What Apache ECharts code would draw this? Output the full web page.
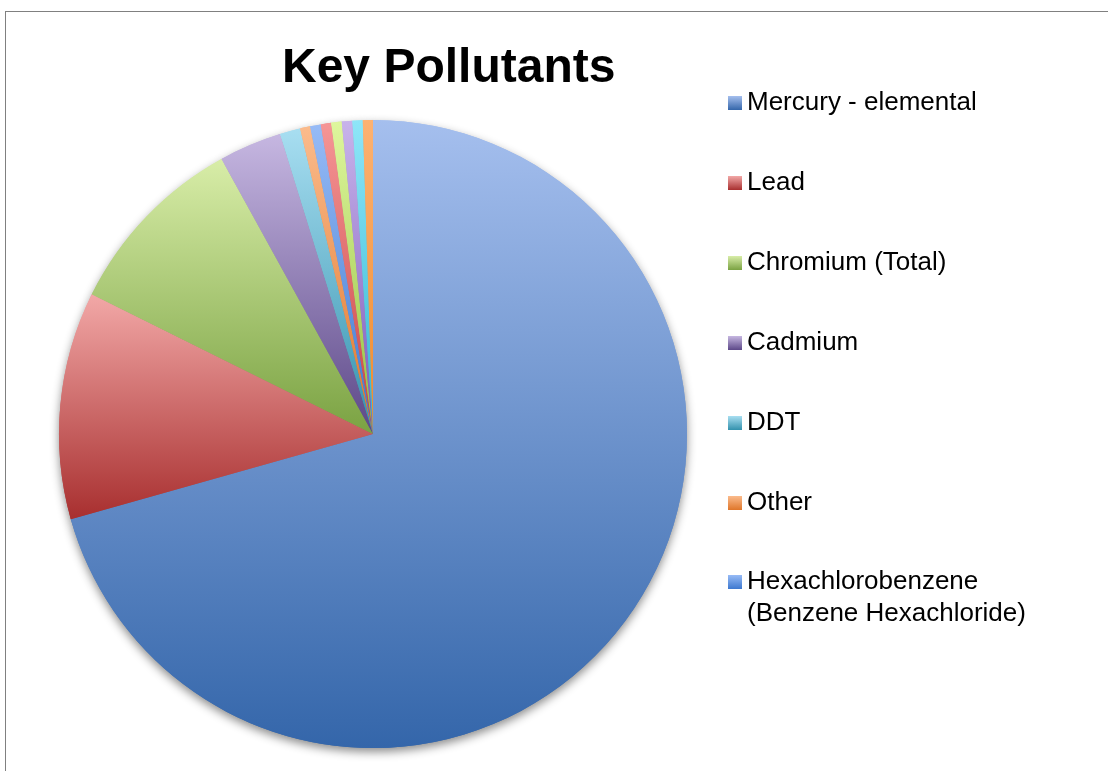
<!DOCTYPE html>
<html>
<head>
<meta charset="utf-8">
<script src="https://cdn.jsdelivr.net/npm/echarts@6/dist/echarts.min.js"></script>
<style>
    html, body { margin: 0; padding: 0; background: #fff; overflow: hidden; }
    #chart1 { width: 1108px; height: 771px; }
    #frame { position: absolute; left: 5px; top: 11px; width: 1200px; height: 900px; border-left: 1px solid #808080; border-top: 1px solid #808080; pointer-events: none; }
</style>
</head>
<body>
<div id="chart1"></div>
<div id="frame"></div>
<script>
    var names = ['Mercury - elemental', 'Lead', 'Chromium (Total)', 'Cadmium', 'DDT', 'Other',
        'Hexachlorobenzene\n(Benzene Hexachloride)', 'Item 8', 'Item 9', 'Item 10', 'Item 11', 'Item 12'];
    // percent of total
    var values = [70.62, 11.71, 9.65, 3.23, 1.05, 0.52, 0.55, 0.53, 0.54, 0.54, 0.53, 0.52];
    var legendNames = names.slice(0, 6);
    var lastLegendName = names[6];
    // top / bottom colours of each slice gradient
    var topColors = ['#a5bfee', '#f2a8a7', '#d8eda8', '#c6b7e1', '#a8def1', '#fbbb8c',
        '#97bbf6', '#f59596', '#def69d', '#c8b3eb', '#8ee6f8', '#fdb272'];
    var bottomColors = ['#3466aa', '#a82f2f', '#7aa242', '#5c4888', '#3391ad', '#df762a',
        '#3d78cf', '#c84343', '#93c040', '#7b58b8', '#2fb4d0', '#ef8a2c'];

    var pieData = [];
    for (var i = 0; i < names.length; i++) {
        pieData.push({
            name: names[i],
            value: values[i],
            itemStyle: {
                color: { type: 'linear', x: 0, y: 0, x2: 0, y2: 1, colorStops: [{ offset: 0, color: topColors[i] }, { offset: 1, color: bottomColors[i] }] }
            }
        });
    }

    var legendText = { color: '#000', fontSize: 26, lineHeight: 32, fontFamily: 'Liberation Sans, Arial, sans-serif' };

    var option = {
        animation: false,
        title: {
            text: 'Key Pollutants',
            left: 282,
            top: 45,
            padding: 0,
            textStyle: { color: '#000', fontSize: 48, fontWeight: 'bold', fontFamily: 'Liberation Sans, Arial, sans-serif' }
        },
        legend: [{
            orient: 'vertical',
            left: 728,
            top: 87,
            padding: 0,
            itemWidth: 14,
            itemHeight: 14,
            itemGap: 48,
            icon: 'rect',
            selectedMode: false,
            textStyle: legendText,
            data: legendNames
        }, {
            // two-line entry, first line level with the icon
            orient: 'vertical',
            left: 728,
            top: 534,
            padding: 0,
            itemWidth: 14,
            itemHeight: 14,
            icon: 'rect',
            selectedMode: false,
            textStyle: legendText,
            formatter: function(n) { return '\n' + n; },
            data: [lastLegendName]
        }],
        series: [{
            // shadow layer under the pie
            name: 'shadow',
            type: 'pie',
            center: [373, 434],
            radius: 314,
            startAngle: 90,
            silent: true,
            z: 1,
            label: { show: false },
            labelLine: { show: false },
            itemStyle: { borderWidth: 0, shadowBlur: 10, shadowOffsetY: 4, shadowColor: 'rgba(0,0,0,0.45)' },
            data: pieData
        }, {
            name: 'Key Pollutants',
            type: 'pie',
            center: [373, 434],
            radius: 314,
            startAngle: 90,
            z: 2,
            label: { show: false },
            labelLine: { show: false },
            itemStyle: { borderWidth: 0 },
            emphasis: { disabled: true },
            data: pieData
        }]
    };
    var chart1 = echarts.init(document.getElementById('chart1'));
    chart1.setOption(option);
</script>
</body>
</html>
